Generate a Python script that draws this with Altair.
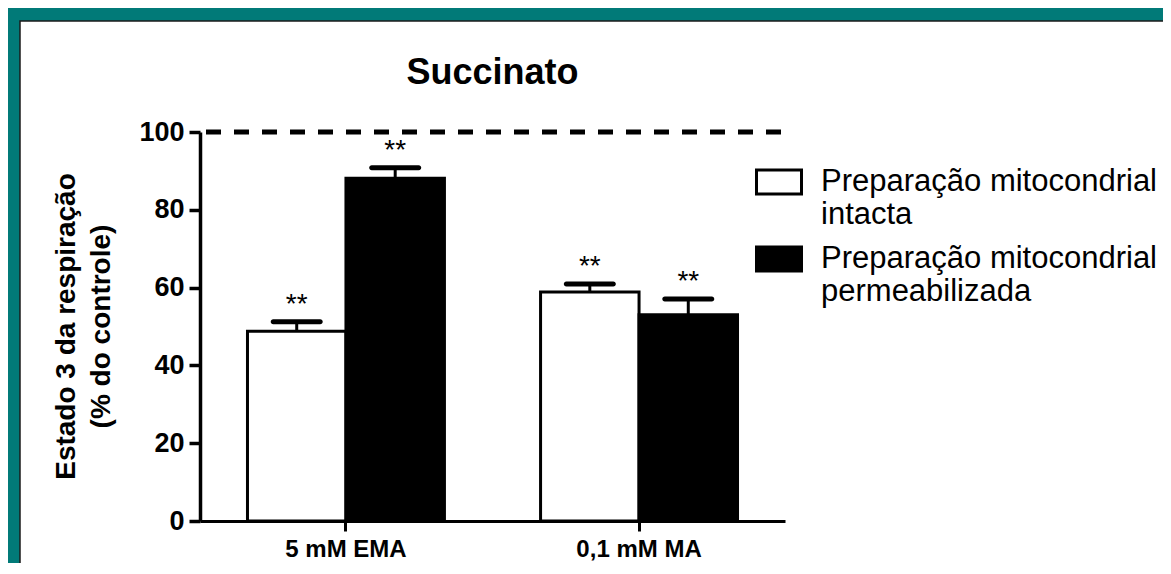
import altair as alt
import pandas as pd

# ---- data ----
groups = ["5 mM EMA", "0,1 mM MA"]
series = ["Preparação mitocondrial\nintacta", "Preparação mitocondrial\npermeabilizada"]
mean_intacta = [48.8, 58.9]
mean_perm = [88.1, 53.0]
sem_intacta = [2.4, 2.0]
sem_perm = [2.7, 4.1]
stars_intacta = ["**", "**"]
stars_perm = ["**", "**"]
control = [100]
y_ticks = [0, 20, 40, 60, 80, 100]

rows = []
for i, g in enumerate(groups):
    rows.append(dict(grupo=g, serie=series[0], media=mean_intacta[i], sem=sem_intacta[i], sig=stars_intacta[i]))
    rows.append(dict(grupo=g, serie=series[1], media=mean_perm[i], sem=sem_perm[i], sig=stars_perm[i]))
df = pd.DataFrame(rows)
df["sup"] = df["media"] + df["sem"]

W, H = 585, 389
FONT = "Liberation Sans"
TEAL = "#017A78"

xaxis = alt.Axis(title=None, labelAngle=0, labelFontSize=24, labelFontWeight="bold", labelFont=FONT,
                 labelColor="black", tickSize=10, tickWidth=3, tickColor="black", domainWidth=3,
                 domainColor="black", labelPadding=6, zindex=1)
x = alt.X("grupo:N", sort=groups, scale=alt.Scale(paddingInner=0.328, paddingOuter=0.162), axis=xaxis)
xo = alt.XOffset("serie:N", sort=series, scale=alt.Scale(paddingInner=0, paddingOuter=0))
yscale = alt.Scale(domain=[0, 100], nice=False)
yaxis = alt.Axis(values=y_ticks, title=["Estado 3 da respiração", "(% do controle)"], titleFontSize=28,
                 titleFont=FONT, titleFontWeight="bold", titleColor="black", titleLineHeight=35,
                 titleX=-126, titleY=194, titleAngle=270, titleAlign="center", titleBaseline="alphabetic",
                 labelFontSize=27, labelFontWeight="bold", labelFont=FONT, labelColor="black",
                 tickSize=11, tickWidth=3.5, tickColor="black", domainWidth=3.5, domainColor="black",
                 labelPadding=5, grid=False, zindex=1)

legend = alt.Legend(orient="none", legendX=555, legendY=26, title=None,
                    symbolType="M-1,-0.533H1V0.533H-1Z", symbolSize=2025,
                    symbolStrokeColor="black", symbolStrokeWidth=3,
                    labelFontSize=31, labelFont=FONT, labelColor="black", labelOffset=18,
                    labelLimit=0, labelExpr="split(datum.label, '\\n')", labelBaseline="middle",
                    rowPadding=5, zindex=1)

frame = alt.Chart(pd.DataFrame({"f": [0]})).mark_rect(fill="white", stroke="#1b1b1b", strokeWidth=1.5).encode(
    x=alt.value(-180), x2=alt.value(1200), y=alt.value(-111), y2=alt.value(800))

ref = alt.Chart(pd.DataFrame({"controle": control})).mark_rule(
    color="black", strokeWidth=5, strokeDash=[15, 13]).encode(
    y=alt.Y("controle:Q", scale=yscale, axis=yaxis), x=alt.value(6), x2=alt.value(W))

base = alt.Chart(df)
bars = base.mark_bar(stroke="black", strokeWidth=3).encode(
    x=x, xOffset=xo,
    y=alt.Y("media:Q", scale=yscale, axis=yaxis),
    fill=alt.Fill("serie:N", sort=series, scale=alt.Scale(domain=series, range=["white", "black"]), legend=legend),
)
err = base.mark_rule(color="black", strokeWidth=3).encode(
    x=x, xOffset=xo, y=alt.Y("media:Q", scale=yscale, axis=yaxis), y2="sup:Q")
cap = base.mark_tick(color="black", opacity=1, thickness=5, size=52, cornerRadius=2.5).encode(
    x=x, xOffset=xo, y=alt.Y("sup:Q", scale=yscale, axis=yaxis))
stars = base.mark_text(fontSize=28, font=FONT, color="black", dy=-9, baseline="alphabetic", align="center").encode(
    x=x, xOffset=xo, y=alt.Y("sup:Q", scale=yscale, axis=yaxis), text="sig:N")

chart = alt.layer(frame, ref, bars, err, cap, stars).properties(
    width=W, height=H,
    title=alt.TitleParams("Succinato", fontSize=36, fontWeight="bold", font=FONT, color="black",
                          anchor="middle", frame="group", baseline="alphabetic", offset=0, dy=100, zindex=1),
    background=TEAL,
    autosize=alt.AutoSizeParams(type="none"),
    padding={"left": 192, "top": 124, "right": 378, "bottom": 42},
).configure_view(stroke=None)

chart.save("out.html", embed_options={"renderer": "svg", "actions": False})
